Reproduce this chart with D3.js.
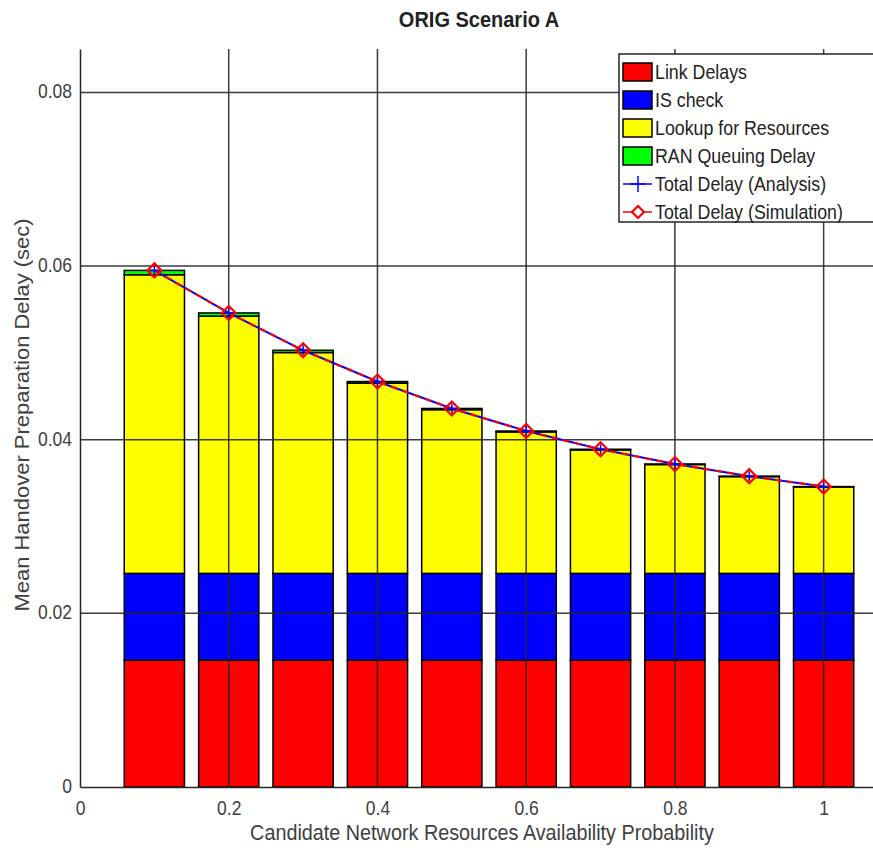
<!DOCTYPE html>
<html>
<head>
<meta charset="utf-8">
<script src="https://cdn.jsdelivr.net/npm/d3@7"></script>
<style>
  html, body { margin: 0; padding: 0; background: #fff; }
  svg { display: block; font-family: "Liberation Sans", Arial, Helvetica, sans-serif; }
</style>
</head>
<body>
<svg id="chart" width="873" height="848"></svg>
<script>
// Availability probability of candidate network resources
const probabilities = [0.1, 0.2, 0.3, 0.4, 0.5, 0.6, 0.7, 0.8, 0.9, 1.0];

// Delay components (sec)
const linkDelays   = [0.0146, 0.0146, 0.0146, 0.0146, 0.0146, 0.0146, 0.0146, 0.0146, 0.0146, 0.0146];
const isCheck      = [0.0100, 0.0100, 0.0100, 0.0100, 0.0100, 0.0100, 0.0100, 0.0100, 0.0100, 0.0100];
const lookup       = [0.0344, 0.02964, 0.02544, 0.02191, 0.01886, 0.0163, 0.01422, 0.01254, 0.01115, 0.00996];
const ranQueuing   = [0.00050, 0.00036, 0.00026, 0.00019, 0.00014, 0.00010, 0.00008, 0.00006, 0.00005, 0.00004];

// Total delay curves
const totalAnalysis   = [0.0595, 0.0546, 0.0503, 0.0467, 0.0436, 0.0410, 0.0389, 0.0372, 0.0358, 0.0346];
const totalSimulation = [0.0595, 0.0546, 0.0503, 0.0467, 0.0436, 0.0410, 0.0389, 0.0372, 0.0358, 0.0346];

const xTicks = [0, 0.2, 0.4, 0.6, 0.8, 1];
const xTickLabels = ["0", "0.2", "0.4", "0.6", "0.8", "1"];
const yTicks = [0, 0.02, 0.04, 0.06, 0.08];
const yTickLabels = ["0", "0.02", "0.04", "0.06", "0.08"];

const componentNames  = ["Link Delays", "IS check", "Lookup for Resources", "RAN Queuing Delay"];
const componentColors = ["#ff0000", "#0000ff", "#ffff00", "#00ff00"];

// Glyphs are drawn slightly taller than wide
const stretch = 1.11;

const svg = d3.select("#chart");
const margin = { left: 80, top: 49, bottom: 61 };
const plotW = 818, plotH = 848 - margin.top - margin.bottom;

const x = d3.scaleLinear().domain([0, 1.1]).range([margin.left, margin.left + plotW]);
const y = d3.scaleLinear().domain([0, 0.085]).range([margin.top + plotH, margin.top]);

const rows = probabilities.map((p, i) => ({
  p, link: linkDelays[i], is: isCheck[i], lookup: lookup[i], ran: ranQueuing[i]
}));
const stack = d3.stack().keys(["link", "is", "lookup", "ran"])(rows);

const barW = 0.081;

// Stacked bars
const layers = svg.append("g").selectAll("g").data(stack).join("g")
  .attr("fill", (d, i) => componentColors[i]);
layers.selectAll("rect").data(d => d).join("rect")
  .attr("x", d => x(d.data.p - barW / 2))
  .attr("width", d => x(barW) - x(0))
  .attr("y", d => y(d[1]))
  .attr("height", d => y(d[0]) - y(d[1]))
  .attr("stroke", "#000")
  .attr("stroke-width", 1.5);

// Grid lines drawn over the bars
const grid = svg.append("g").attr("stroke", "#262626").attr("stroke-width", 1.5).attr("stroke-opacity", 0.9);
grid.selectAll("line.gx").data(xTicks.filter(t => t > 0)).join("line")
  .attr("x1", d => x(d)).attr("x2", d => x(d))
  .attr("y1", y(0)).attr("y2", y(0.085));
grid.selectAll("line.gy").data(yTicks.filter(t => t > 0)).join("line")
  .attr("x1", x(0)).attr("x2", x(1.1))
  .attr("y1", d => y(d)).attr("y2", d => y(d));

// Axes
const xAxis = d3.axisBottom(x).tickValues(xTicks).tickFormat((d, i) => xTickLabels[i]).tickSize(0).tickPadding(13);
const yAxis = d3.axisLeft(y).tickValues(yTicks).tickFormat((d, i) => yTickLabels[i]).tickSize(0).tickPadding(8);
const gx = svg.append("g").attr("transform", `translate(0,${y(0)})`).call(xAxis);
const gy = svg.append("g").attr("transform", `translate(${x(0)},0)`).call(yAxis);
[gx, gy].forEach(g => {
  g.select(".domain").attr("stroke", "#262626").attr("stroke-width", 1.5);
  g.selectAll("text").attr("font-size", 17.5).attr("fill", "#404040")
    .attr("transform", `scale(1,${stretch})`);
});
gy.selectAll("text").attr("dy", "0.28em");

// Total delay lines
const line = d3.line().x((d, i) => x(probabilities[i])).y(d => y(d));
svg.append("path").datum(totalAnalysis).attr("d", line)
  .attr("fill", "none").attr("stroke", "#0000ff").attr("stroke-width", 2);
svg.append("path").datum(totalSimulation).attr("d", line)
  .attr("fill", "none").attr("stroke", "#ff0000").attr("stroke-width", 2).attr("stroke-dasharray", "7,5");

// Analysis markers (+)
svg.append("g").selectAll("path").data(totalAnalysis).join("path")
  .attr("d", (d, i) => { const cx = x(probabilities[i]), cy = y(d); return `M${cx-5},${cy}H${cx+5}M${cx},${cy-5}V${cy+5}`; })
  .attr("stroke", "#0000ff").attr("stroke-width", 1.5);
// Simulation markers (diamond)
svg.append("g").selectAll("path").data(totalSimulation).join("path")
  .attr("d", (d, i) => { const cx = x(probabilities[i]), cy = y(d), r = 7; return `M${cx},${cy-r}L${cx+r},${cy}L${cx},${cy+r}L${cx-r},${cy}Z`; })
  .attr("fill", "none").attr("stroke", "#ff0000").attr("stroke-width", 2.2);

// Title and axis labels
svg.append("text").attr("transform", `translate(479,27) scale(1,${stretch})`).attr("text-anchor", "middle")
  .attr("font-size", 20).attr("font-weight", "bold").attr("fill", "#222").text("ORIG Scenario A");
svg.append("text").attr("transform", `translate(482,840) scale(1,${stretch})`).attr("text-anchor", "middle")
  .attr("font-size", 19.8).attr("fill", "#404040").text("Candidate Network Resources Availability Probability");
svg.append("text").attr("transform", `translate(29,415) rotate(-90) scale(${stretch},1)`).attr("text-anchor", "middle")
  .attr("font-size", 19.8).attr("fill", "#404040").text("Mean Handover Preparation Delay (sec)");

// Legend
const lg = svg.append("g").attr("transform", "translate(619,54)");
lg.append("rect").attr("width", 270).attr("height", 168).attr("fill", "#fff")
  .attr("stroke", "#262626").attr("stroke-width", 1.5);
const rowH = 28;
componentNames.forEach((name, i) => {
  const cy = 18 + i * rowH;
  lg.append("rect").attr("x", 4).attr("y", cy - 9).attr("width", 29).attr("height", 18)
    .attr("fill", componentColors[i]).attr("stroke", "#000").attr("stroke-width", 1.5);
  lg.append("text").attr("transform", `translate(36,${cy + 6.5}) scale(1,${stretch})`)
    .attr("font-size", 17.8).attr("fill", "#222").text(name);
});
const lineEntries = [
  { name: "Total Delay (Analysis)", color: "#0000ff", marker: "plus" },
  { name: "Total Delay (Simulation)", color: "#ff0000", marker: "diamond" }
];
lineEntries.forEach((e, j) => {
  const cy = 18 + (4 + j) * rowH;
  lg.append("line").attr("x1", 4).attr("x2", 33).attr("y1", cy).attr("y2", cy)
    .attr("stroke", e.color).attr("stroke-width", 1.5);
  if (e.marker === "plus") {
    lg.append("path").attr("d", `M11,${cy}H27M19,${cy-8}V${cy+8}`).attr("stroke", e.color).attr("stroke-width", 1.5);
  } else {
    lg.append("path").attr("d", `M19,${cy-6}L25,${cy}L19,${cy+6}L13,${cy}Z`).attr("fill", "#fff")
      .attr("stroke", e.color).attr("stroke-width", 2.2);
  }
  lg.append("text").attr("transform", `translate(36,${cy + 6.5}) scale(1,${stretch})`)
    .attr("font-size", 17.8).attr("fill", "#222").text(e.name);
});
</script>
</body>
</html>
